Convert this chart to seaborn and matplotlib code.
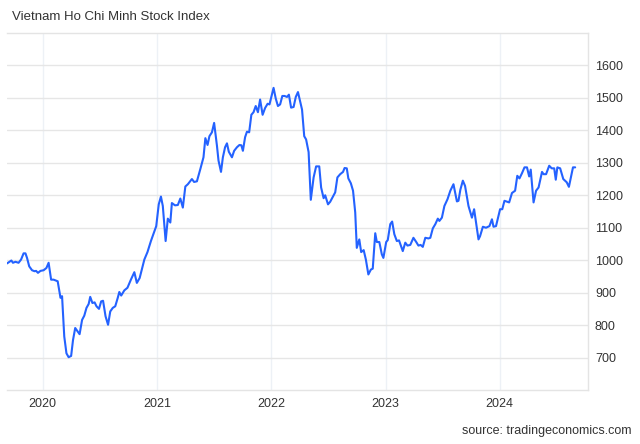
import matplotlib
matplotlib.use("Agg")
import matplotlib.pyplot as plt
import seaborn as sns
import pandas as pd

dates = [
    "2019-09-09", "2019-09-23", "2019-09-28", "2019-10-06", "2019-10-16", "2019-10-24",
    "2019-11-01", "2019-11-07", "2019-11-12", "2019-11-19", "2019-11-28", "2019-12-06",
    "2019-12-11", "2019-12-17", "2019-12-25", "2020-01-04", "2020-01-13", "2020-01-20",
    "2020-01-28", "2020-02-05", "2020-02-18", "2020-02-27", "2020-03-03", "2020-03-10",
    "2020-03-17", "2020-03-24", "2020-04-01", "2020-04-07", "2020-04-14", "2020-04-22",
    "2020-04-28", "2020-05-06", "2020-05-13", "2020-05-20", "2020-05-27", "2020-06-01",
    "2020-06-08", "2020-06-15", "2020-06-21", "2020-06-29", "2020-07-06", "2020-07-12",
    "2020-07-20", "2020-07-28", "2020-08-04", "2020-08-12", "2020-08-20", "2020-08-28",
    "2020-09-02", "2020-09-08", "2020-09-18", "2020-09-28", "2020-10-09", "2020-10-20",
    "2020-10-28", "2020-11-06", "2020-11-21", "2020-12-01", "2020-12-12", "2020-12-29",
    "2021-01-06", "2021-01-13", "2021-01-19", "2021-01-28", "2021-02-04", "2021-02-12",
    "2021-02-17", "2021-02-27", "2021-03-08", "2021-03-16", "2021-03-24", "2021-04-01",
    "2021-04-09", "2021-04-22", "2021-04-29", "2021-05-08", "2021-05-19", "2021-05-29",
    "2021-06-04", "2021-06-11", "2021-06-17", "2021-06-25", "2021-07-02", "2021-07-11",
    "2021-07-16", "2021-07-24", "2021-07-30", "2021-08-06", "2021-08-12", "2021-08-18",
    "2021-08-28", "2021-09-04", "2021-09-13", "2021-09-21", "2021-09-27", "2021-10-02",
    "2021-10-09", "2021-10-15", "2021-10-22", "2021-10-29", "2021-11-05", "2021-11-12",
    "2021-11-19", "2021-11-26", "2021-12-04", "2021-12-12", "2021-12-20", "2021-12-26",
    "2022-01-08", "2022-01-15", "2022-01-22", "2022-01-29", "2022-02-05", "2022-02-12",
    "2022-02-20", "2022-02-26", "2022-03-05", "2022-03-13", "2022-03-20", "2022-03-27",
    "2022-04-09", "2022-04-16", "2022-04-22", "2022-04-30", "2022-05-07", "2022-05-16",
    "2022-05-24", "2022-06-03", "2022-06-09", "2022-06-17", "2022-06-22", "2022-07-01",
    "2022-07-08", "2022-07-24", "2022-07-31", "2022-08-09", "2022-08-18", "2022-08-23",
    "2022-08-30", "2022-09-04", "2022-09-12", "2022-09-19", "2022-09-26", "2022-10-01",
    "2022-10-09", "2022-10-15", "2022-10-23", "2022-10-30", "2022-11-07", "2022-11-15",
    "2022-11-21", "2022-11-29", "2022-12-04", "2022-12-12", "2022-12-20", "2022-12-25",
    "2023-01-03", "2023-01-08", "2023-01-16", "2023-01-22", "2023-01-29", "2023-02-06",
    "2023-02-13", "2023-02-25", "2023-03-05", "2023-03-12", "2023-03-21", "2023-03-31",
    "2023-04-09", "2023-04-16", "2023-04-23", "2023-04-30", "2023-05-08", "2023-05-18",
    "2023-05-24", "2023-06-01", "2023-06-09", "2023-06-17", "2023-06-22", "2023-06-30",
    "2023-07-08", "2023-07-18", "2023-07-27", "2023-08-06", "2023-08-17", "2023-08-22",
    "2023-08-28", "2023-09-05", "2023-09-12", "2023-09-23", "2023-10-04", "2023-10-11",
    "2023-10-25", "2023-10-30", "2023-11-08", "2023-11-18", "2023-11-29", "2023-12-07",
    "2023-12-12", "2023-12-20", "2024-01-02", "2024-01-09", "2024-01-16", "2024-01-25",
    "2024-01-31", "2024-02-09", "2024-02-19", "2024-02-26", "2024-03-04", "2024-03-12",
    "2024-03-20", "2024-03-28", "2024-04-04", "2024-04-09", "2024-04-18", "2024-04-26",
    "2024-05-04", "2024-05-15", "2024-05-20", "2024-05-28", "2024-06-07", "2024-06-15",
    "2024-06-23", "2024-06-28", "2024-07-03", "2024-07-12", "2024-07-22", "2024-08-02",
    "2024-08-09", "2024-08-22", "2024-08-29",
]

values = [
    990, 999, 992, 995, 992, 1002,
    1021, 1021, 1007, 981, 969, 966,
    967, 961, 967, 969, 976, 992,
    940, 940, 935, 884, 889, 765,
    713, 701, 705, 754, 791, 780,
    772, 816, 829, 853, 865, 887,
    868, 870, 858, 850, 873, 875,
    827, 801, 842, 853, 858, 884,
    902, 891, 907, 915, 940, 963,
    930, 945, 1002, 1025, 1059, 1105,
    1172, 1196, 1167, 1059, 1128, 1116,
    1176, 1169, 1170, 1190, 1162, 1227,
    1234, 1250, 1241, 1243, 1281, 1317,
    1376, 1355, 1382, 1394, 1423, 1353,
    1307, 1272, 1317, 1348, 1360, 1334,
    1317, 1337, 1348, 1355, 1354, 1337,
    1379, 1396, 1394, 1448, 1456, 1475,
    1456, 1495, 1448, 1469, 1482, 1480,
    1531, 1498, 1475, 1480, 1506, 1506,
    1503, 1510, 1470, 1472, 1503, 1518,
    1464, 1382, 1372, 1333, 1186, 1255,
    1289, 1289, 1224, 1191, 1200, 1172,
    1180, 1209, 1255, 1265, 1272, 1284,
    1283, 1252, 1237, 1214, 1147, 1038,
    1064, 1025, 1031, 1002, 956, 971,
    974, 1083, 1056, 1056, 1018, 1007,
    1056, 1062, 1111, 1119, 1080, 1059,
    1061, 1028, 1054, 1045, 1047, 1069,
    1056, 1045, 1047, 1041, 1069, 1067,
    1069, 1098, 1111, 1128, 1121, 1131,
    1167, 1188, 1214, 1234, 1181, 1183,
    1217, 1245, 1229, 1167, 1131, 1157,
    1064, 1074, 1103, 1100, 1105, 1126,
    1103, 1105, 1157, 1157, 1183, 1180,
    1178, 1207, 1214, 1260, 1252, 1268,
    1286, 1286, 1258, 1279, 1178, 1214,
    1224, 1272, 1265, 1265, 1291, 1283,
    1283, 1248, 1286, 1283, 1250, 1240,
    1226, 1286, 1286,
]

year_ticks = ["2020-01-01", "2021-01-01", "2022-01-01", "2023-01-01", "2024-01-01"]
year_labels = ["2020", "2021", "2022", "2023", "2024"]
y_ticks = [700, 800, 900, 1000, 1100, 1200, 1300, 1400, 1500, 1600]
title = "Vietnam Ho Chi Minh Stock Index"
source = "source: tradingeconomics.com"

sns.set_style("white")
plt.rcParams["font.family"] = ["Liberation Sans", "DejaVu Sans"]

df = pd.DataFrame({"date": pd.to_datetime(dates), "value": values})

fig = plt.figure(figsize=(6.4, 4.44), dpi=100)
ax = fig.add_axes([7 / 640, 1 - 390 / 444, 581 / 640, 357 / 444])
sns.lineplot(data=df, x="date", y="value", ax=ax, color="#2462ff", linewidth=1.5)

ax.set_xlim(pd.Timestamp("2019-09-09"), pd.Timestamp("2024-10-09"))
ax.set_ylim(600, 1700)
ax.yaxis.tick_right()
ax.set_yticks(y_ticks)
ax.set_yticklabels([str(v) for v in y_ticks])
ax.set_xticks(pd.to_datetime(year_ticks))
ax.set_xticklabels(year_labels)
ax.tick_params(axis="both", length=0, labelsize=9, labelcolor="#333333")
ax.tick_params(axis="y", pad=5)
ax.tick_params(axis="x", pad=6)
ax.set_axisbelow(True)
ax.grid(axis="y", color="#e6e6e6", linewidth=1)
ax.grid(axis="x", color="#edf1f6", linewidth=1)
ax.spines["left"].set_visible(False)
for s in ["top", "bottom", "right"]:
    ax.spines[s].set_color("#e4e4e4")
    ax.spines[s].set_linewidth(1)
ax.set_xlabel("")
ax.set_ylabel("")

fig.text(12 / 640, 1 - 17 / 444, title, fontsize=9.5, ha="left", va="center", color="#333333")
fig.text(632 / 640, 1 - 431 / 444, source, fontsize=9, ha="right", va="center", color="#333333")

fig.savefig("out.png", dpi=100)
